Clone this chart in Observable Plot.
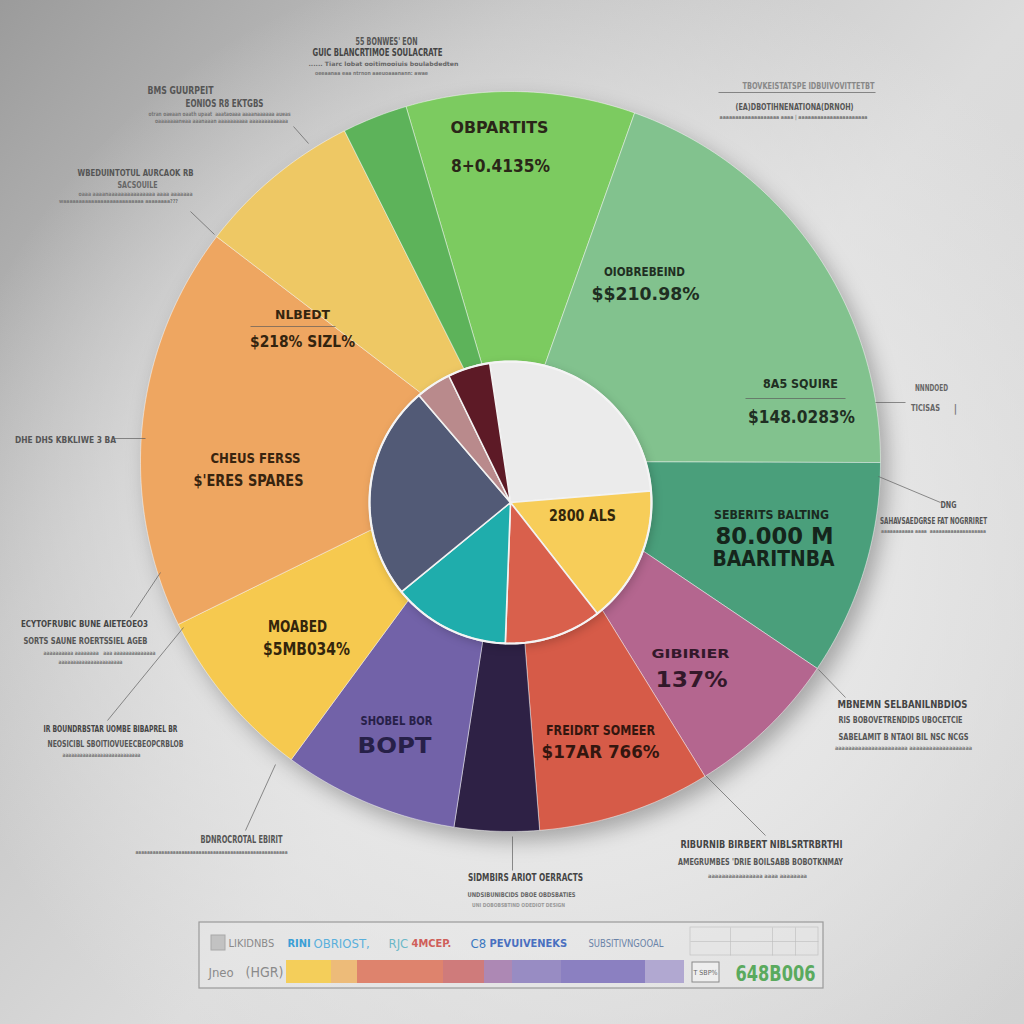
<!DOCTYPE html>
<html><head><meta charset="utf-8">
<script src="https://cdn.jsdelivr.net/npm/d3@7"></script>
<script src="https://cdn.jsdelivr.net/npm/@observablehq/plot@0.6"></script>
<style>
html,body{margin:0;padding:0;width:1024px;height:1024px;overflow:hidden;}
body{background:
 radial-gradient(ellipse 62% 60% at 55% 55%, rgba(236,236,236,1) 0%, rgba(232,232,232,0.85) 50%, rgba(225,225,225,0) 100%),
 linear-gradient(130deg, #9b9b9b 0%, #c4c4c4 28%, #dcdcdc 55%, #d2d2d2 100%);}
#chart svg{display:block;}
</style></head><body><div id="chart"></div>
<script>
// ---------------- DATA ----------------
const outerNames  = ["OBPARTITS","OIOBREBEIND","SEBERITS BALTING","GIBIRIER","FREIDRT SOMEER","SIDMBIRS","SHOBEL BOR","MOABED","CHEUS FERSS","NLBEDT","BMS GUURPEIT"];
const outerValues = [10.0, 19.6, 9.4, 6.75, 7.55, 3.7, 7.65, 7.65, 17.65, 7.2, 2.85];
const outerColors = ["#7ccb60","#82c28e","#4a9f7b","#b4668f","#d65b48","#2e2145","#7262a8","#f6c94f","#eea661","#eec864","#5db35a"];

const innerNames  = ["Blank","2800 ALS","Red","Teal","Navy","Mauve","Maroon"];
const innerValues = [26.05, 15.75, 11.15, 13.5, 24.65, 4.05, 4.85];
const innerColors = ["#ebebeb","#f7cd59","#d9604c","#1fadac","#525a76","#b98a8c","#5d1a26"];

const sliceLabelText = ["OBPARTITS","8+0.4135%","OIOBREBEIND","$$210.98%","8A5 SQUIRE","$148.0283%",
  "SEBERITS BALTING","80.000 M","BAARITNBA","GIBIRIER","137%","FREIDRT SOMEER","$17AR 766%",
  "SHOBEL BOR","BOPT","MOABED","$5MB034%","CHEUS FERSS","$'ERES SPARES","NLBEDT","$218% SIZL%","2800 ALS"];

const noteText = [
 "55 BONWES' EON","GUIC BLANCRTIMOE SOULACRATE","...... Tiarc lobat ooitimooiuis boulabdedten","oeeaanaa eaa ntrnon aaeuoaaanann: awae",
 "BMS GUURPEIT","EONIOS R8 EKTGBS","otran oaeaan oaath upaat  aaataoaaa aaaanaaaaaa aueas","oaaaaaaaneaa aaanaaan aaaaaaaaaa aaaaaaaaaaaaa",
 "WBEDUINTOTUL AURCAOK RB","SACSOUILE","oaaa aaaanaaaaaaaaaaaaaaa aaaa aaaaaaa","waaaaaaaaaaaaaaaaaaaaaaaaaa aaaaaaaa???",
 "TBOVKEISTATSPE IDBUIVOVITTETBT","(EA)DBOTIHNENATIONA(DRNOH)","aaaaaaaaaaaaaaaaaaa aaaa | aaaaaaaaaaaaaaaaaaaaaa",
 "NNNDOED","TICISAS","|",
 "DNG","SAHAVSAEDGRSE FAT NOGRRIRET","aaaaaaaaaaa aaaa  aaaaaaaaaaaaaaaaaaa",
 "DHE DHS KBKLIWE 3 BA",
 "ECYTOFRUBIC BUNE AIETEOEO3","SORTS SAUNE ROERTSSIEL AGEB","aaaaaaaaaa aaaaaaaa   aaa aaaaaaaaaaaaaa","aaaaaaaaaaaaaaaaaaaaaa",
 "IR BOUNDRBSTAR UOMBE BIBAPREL BR","NEOSICIBL SBOITIOVUEECBEOPCRBLOB","aaaaaaaaaaaaaaaaaaaaaaaaaaa",
 "BDNROCROTAL EBIRIT","aaaaaaaaaaaaaaaaaaaaaaaaaaaaaaaaaaaaaaaaaaaaaaaaaaaaa",
 "SIDMBIRS ARIOT OERRACTS","UNDSIBUNIBCIDS DBOE OBDSBATIES",
 "MBNEMN SELBANILNBDIOS","RIS BOBOVETRENDIDS UBOCETCIE","SABELAMIT B NTAOI BIL NSC NCGS","aaaaaaaaaaaaaaaaaaaaaa aaaaaaaaaaaaaaaaaaa",
 "RIBURNIB BIRBERT NIBLSRTRBRTHI","AMEGRUMBES 'DRIE BOILSABB BOBOTKNMAY","aaaaaaaaaaaaaaaa aaaa aaaaaaaa",
 "UNI DOBOBSBTIND ODEDIOT DESIGN"
];

const legendText = ["LIKIDNBS","RINI","OBRIOST,","RJC","4MCEP.","C8","PEVUIVENEKS","SUBSITIVNGOOAL","Jneo","(HGR)","T SBP%","648B006"];
const legendShares = [45, 26, 86, 41, 28, 49, 84, 39];
const legendColors = ["#f5cc4e","#eeb770","#dd7b63","#cd7272","#a880b0","#9184c0","#8377be","#aca3cf"];

// ---------------- LAYOUT ----------------
const OUTER = {cx: 510, cy: 461, r: 370, start: -16.4};
const INNER = {cx: 510, cy: 502, r: 141, start: -8.5};
// [x, y, fontSize, color, width]
const sliceLabelLayout = [
 [499,128,15,"#2a2618",98],[500,166,17,"#2a2618",99],[644,272,12,"#1f2e22",81],[645,294,17,"#1f2e22",108],
 [800,384,12,"#1f2e22",75],[801,417,17,"#1f2e22",107],
 [771,515,12,"#1a2a20",115],[774,536,23,"#15251b",118],[773,559,21,"#15251b",122],
 [690,653,13,"#33182a",78],[691,679,22,"#33182a",72],[600,730,14,"#33160f",109],[600,752,17,"#33160f",118],
 [396,721,12,"#272048",72],[394,746,21,"#272048",74],[297,626,16,"#33250c",59],[306,649,18,"#33250c",87],
 [255,458,14,"#38240f",90],[248,481,15,"#38240f",110],[302,314,13,"#33240f",55],[302,341,16,"#33240f",105],[582,516,15,"#33260b",67]
];
// [x, y, fontSize, color, width]
const noteLayout = [
 [386,41,10,"#555",62],[377,52,10,"#444",130],[383,64,6,"#666",150],[371,73,5.5,"#777",113],
 [180,90,10,"#555",66],[224,103,10,"#555",78],[219,114,6,"#777",142],[221,121,6,"#777",133],
 [135,172,9.5,"#555",116],[137,185,8.5,"#666",40],[135,194,6,"#777",114],[118,201,5.5,"#777",119],
 [808,86,9,"#888",132],[794,106,9.5,"#555",118],[793,117,5.5,"#777",148],
 [931,388,9,"#666",33],[925,408,9,"#666",29],[955,408,10,"#777",0],
 [948,504,9.5,"#555",16],[933,521,8,"#555",107],[933,531,5.5,"#777",105],
 [65,439,9.5,"#555",101],
 [84,623,9.5,"#444",127],[85,641,8.5,"#555",124],[99,653,6,"#777",112],[90,662,6,"#777",64],
 [110,728,9.5,"#444",134],[115,744,8.5,"#555",136],[101,755,6,"#777",78],
 [241,839,10,"#555",82],[211,852,5.5,"#777",152],
 [525,877,10,"#444",115],[521,894,6.5,"#666",108],
 [902,704,10,"#444",130],[900,720,9,"#555",124],[903,737,9,"#555",130],[903,748,6,"#777",137],
 [761,844,10,"#444",162],[760,862,9,"#555",165],[757,876,6,"#777",99],
 [518,905,5.5,"#999",93]
];
const leaderLayout = [
 [293,126,308,143],[190,211,214,234],[718,92,875,92],[875,402,905,402],[878,476,940,502],
 [112,438,145,438],[160,572,130,617],[183,627,107,720],[275,764,245,830],[512,836,512,870],
 [818,669,845,697],[705,775,765,835],[745,398,845,398],[250,326,335,326]
];
// legend: [x, y, fontSize, color, anchor, weight, width]
const legendLayout = [
 [228,943,11,"#8a8a8a","start",400,0],[287,943,11,"#3a9fd6","start",700,0],[313,943,13,"#5ab0dc","start",400,0],
 [388,943,13,"#6cb8c8","start",400,0],[411,943,11,"#cf5f5a","start",700,0],
 [470,943,13,"#3a78c0","start",400,0],[489,943,11,"#4a70c0","start",700,0],[588,943,10,"#6b84a8","start",400,75],
 [208,972,13,"#8a8a8a","start",400,0],[245,972,14,"#8a8a8a","start",400,0],[705,972,7,"#666","middle",400,24],
 [775,973,22,"#5aaa5e","middle",700,80]
];
const LEG = {x0: 286, x1: 684, y0: 960, y1: 983};
const BOX = {x1: 199, y1: 922, x2: 823, y2: 988};

// ---------------- BUILD ----------------
function pieGeom(names, values, colors, g) {
  const total = d3.sum(values);
  let acc = 0; const pts = [];
  names.forEach((n, i) => {
    const a0 = g.start + acc / total * 360; acc += values[i];
    const a1 = g.start + acc / total * 360;
    const steps = Math.max(2, Math.ceil(a1 - a0));
    pts.push({k: n, c: colors[i], x: g.cx, y: g.cy});
    for (let j = 0; j <= steps; j++) {
      const a = (a0 + (a1 - a0) * j / steps) * Math.PI / 180;
      pts.push({k: n, c: colors[i], x: g.cx + g.r * Math.sin(a), y: g.cy - g.r * Math.cos(a)});
    }
    pts.push({k: n, c: colors[i], x: g.cx, y: g.cy});
  });
  return pts;
}
const outerPts = pieGeom(outerNames, outerValues, outerColors, OUTER);
const innerPts = pieGeom(innerNames, innerValues, innerColors, INNER);
const ring = d3.range(0, 361, 2).map(a => ({x: INNER.cx + INNER.r * Math.sin(a * Math.PI / 180), y: INNER.cy - INNER.r * Math.cos(a * Math.PI / 180)}));

const sliceLabels = sliceLabelText.map((t, i) => ({t, x: sliceLabelLayout[i][0], y: sliceLabelLayout[i][1], s: sliceLabelLayout[i][2], c: sliceLabelLayout[i][3], w: sliceLabelLayout[i][4]}));
const notes = noteText.map((t, i) => ({t, x: noteLayout[i][0], y: noteLayout[i][1], s: noteLayout[i][2], c: noteLayout[i][3], w: noteLayout[i][4]}));
const leaders = leaderLayout.map(d => ({x1: d[0], y1: d[1], x2: d[2], y2: d[3]}));
const legendItems = legendText.map((t, i) => ({t, x: legendLayout[i][0], y: legendLayout[i][1], s: legendLayout[i][2], c: legendLayout[i][3], a: legendLayout[i][4], fw: legendLayout[i][5], w: legendLayout[i][6]}));
const shareTotal = d3.sum(legendShares);
let cumS = 0;
const legendBar = legendShares.map((v, i) => {
  const a = LEG.x0 + cumS / shareTotal * (LEG.x1 - LEG.x0); cumS += v;
  const b = LEG.x0 + cumS / shareTotal * (LEG.x1 - LEG.x0);
  return {x1: a, x2: b, c: legendColors[i]};
});

const slab = "'DejaVu Sans Condensed', 'DejaVu Sans', sans-serif";
const narrow = "'Liberation Sans Narrow', 'DejaVu Sans Condensed', sans-serif";

const fitGroups = [];
let gid = 0;
const textMark = (data, font, weight, anchor) => {
  const tag = "txt-" + (gid++);
  fitGroups.push([tag, data]);
  return Plot.text(data, {x: "x", y: "y", text: "t", fontSize: "s", fill: "c", fontFamily: font, fontWeight: weight, textAnchor: anchor, lineAnchor: "middle", ariaDescription: tag});
};

const legendGroups = d3.groups(legendItems, d => d.a + "|" + d.fw + "|" + (d.s > 20));

const chart = Plot.plot({
  width: 1024, height: 1024,
  margin: 0,
  x: {domain: [0, 1024], range: [0, 1024], axis: null},
  y: {domain: [0, 1024], range: [0, 1024], axis: null},
  color: {type: "identity"},
  style: {background: "transparent", overflow: "visible"},
  marks: [
    Plot.line(outerPts, {x: "x", y: "y", z: "k", fill: "c", stroke: "rgba(255,255,255,0.45)", strokeWidth: 1, strokeLinejoin: "round", ariaDescription: "outer-pie"}),
    Plot.line(innerPts, {x: "x", y: "y", z: "k", fill: "c", stroke: "#f2f2f2", strokeWidth: 1.6, strokeLinejoin: "round", ariaDescription: "inner-pie"}),
    Plot.line(ring, {x: "x", y: "y", stroke: "#f4f4f4", strokeWidth: 2.2}),
    Plot.link(leaders, {x1: "x1", y1: "y1", x2: "x2", y2: "y2", stroke: "#5a5a5a", strokeWidth: 0.8, strokeOpacity: 0.85}),
    textMark(sliceLabels, slab, 700, "middle"),
    textMark(notes, slab, 700, "middle"),
    // legend box
    Plot.rect([BOX], {x1: "x1", x2: "x2", y1: "y1", y2: "y2", fill: "#ececec", fillOpacity: 0.45, stroke: "#9a9a9a", strokeWidth: 1.2}),
    Plot.rect([{x1: 211, x2: 225, y1: 935, y2: 950}], {x1: "x1", x2: "x2", y1: "y1", y2: "y2", fill: "#c2c2c2", stroke: "#a8a8a8"}),
    Plot.rect(legendBar, {x1: "x1", x2: "x2", y1: () => LEG.y0, y2: () => LEG.y1, fill: "c", fillOpacity: 0.92}),
    Plot.rect([{x1: 692, x2: 719, y1: 962, y2: 982}], {x1: "x1", x2: "x2", y1: "y1", y2: "y2", fill: "#eeeeee", stroke: "#8a8a8a"}),
    Plot.rect([{x1: 690, x2: 818, y1: 927, y2: 955}], {x1: "x1", x2: "x2", y1: "y1", y2: "y2", fill: "none", stroke: "#bcbcbc", strokeWidth: 0.6}),
    Plot.link([{x1: 690, y1: 941, x2: 818, y2: 941}, {x1: 730, y1: 927, x2: 730, y2: 955}, {x1: 772, y1: 927, x2: 772, y2: 955}, {x1: 795, y1: 927, x2: 795, y2: 955}],
      {x1: "x1", y1: "y1", x2: "x2", y2: "y2", stroke: "#bcbcbc", strokeWidth: 0.6}),
    ...legendGroups.map(([, g]) => textMark(g, g[0].s > 20 ? slab : narrow, g[0].fw, g[0].a))
  ]
});
document.getElementById("chart").appendChild(chart);
// fit text widths to the reference lettering
for (const [tag, data] of fitGroups) {
  const g = chart.querySelector('[aria-description="' + tag + '"]');
  if (!g) continue;
  const texts = g.querySelectorAll("text");
  texts.forEach((el, i) => {
    const w = data[i] && data[i].w;
    if (w > 0) { el.setAttribute("textLength", w); el.setAttribute("lengthAdjust", "spacingAndGlyphs"); }
  });
}
const op = chart.querySelector('[aria-description="outer-pie"]');
if (op) op.style.filter = "drop-shadow(7px 9px 10px rgba(0,0,0,0.28))";
const ip = chart.querySelector('[aria-description="inner-pie"]');
if (ip) ip.style.filter = "drop-shadow(2px 3px 4px rgba(0,0,0,0.18))";
</script></body></html>
